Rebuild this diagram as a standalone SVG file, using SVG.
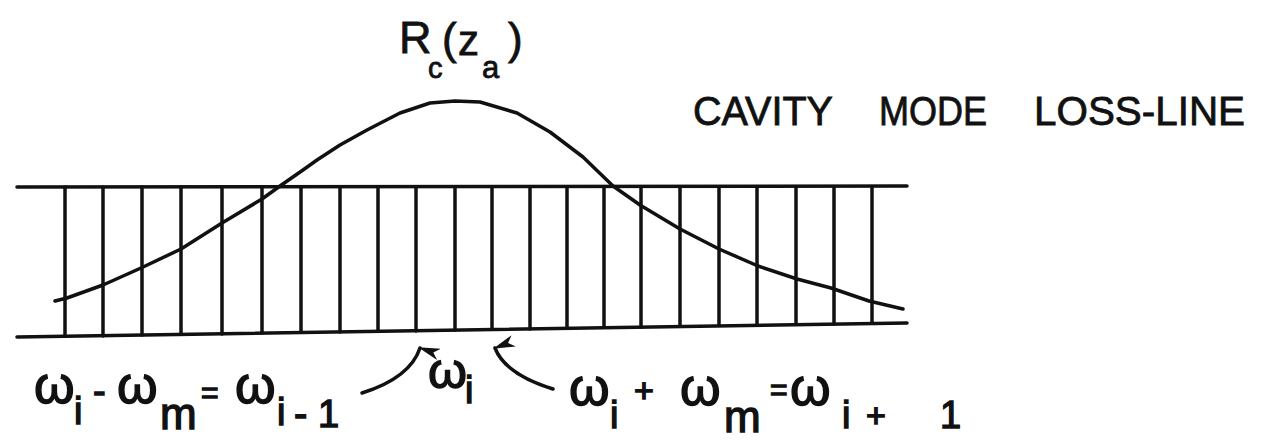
<svg xmlns="http://www.w3.org/2000/svg" width="1262" height="442" viewBox="0 0 1262 442">
<style>
.ln{stroke:#111;stroke-width:3.5;fill:none;stroke-linecap:round;stroke-linejoin:round}
.t{font-family:"Liberation Sans",Arial,sans-serif;fill:#111;stroke:#111;stroke-width:0.8}
.w{font-family:"Liberation Sans",Arial,sans-serif;fill:#111;stroke:#111;stroke-width:1.4}
</style>
<defs>
<marker id="ah" viewBox="0 0 12 22" refX="6" refY="2" markerWidth="12" markerHeight="22" markerUnits="userSpaceOnUse" orient="auto-start-reverse">
<path d="M6,0 L12,22 L6,16 L0,22 Z" fill="#111"/>
</marker>
</defs>
<rect width="1262" height="442" fill="#fff"/>
<g id="frame">
<line class="ln" x1="17" y1="187" x2="907" y2="186"/>
<line class="ln" x1="17" y1="337" x2="907" y2="323"/>
<g class="ln">
<line x1="65" y1="187" x2="65" y2="336"/>
<line x1="103" y1="187" x2="103" y2="336"/>
<line x1="142" y1="187" x2="142" y2="335"/>
<line x1="181" y1="187" x2="181" y2="334"/>
<line x1="222" y1="187" x2="222" y2="334"/>
<line x1="262" y1="187" x2="262" y2="333"/>
<line x1="301" y1="187" x2="301" y2="332"/>
<line x1="340" y1="187" x2="340" y2="332"/>
<line x1="378" y1="187" x2="378" y2="331"/>
<line x1="416" y1="187" x2="416" y2="331"/>
<line x1="455" y1="187" x2="455" y2="330"/>
<line x1="492" y1="187" x2="492" y2="329"/>
<line x1="530" y1="187" x2="530" y2="329"/>
<line x1="567" y1="187" x2="567" y2="328"/>
<line x1="604" y1="187" x2="604" y2="327"/>
<line x1="641" y1="187" x2="641" y2="327"/>
<line x1="680" y1="187" x2="680" y2="326"/>
<line x1="719" y1="187" x2="719" y2="325"/>
<line x1="757" y1="187" x2="757" y2="325"/>
<line x1="796" y1="187" x2="796" y2="324"/>
<line x1="834" y1="187" x2="834" y2="324"/>
<line x1="872" y1="187" x2="872" y2="323"/>
</g>
</g>
<g id="curve">
<polyline class="ln" points="55,301 67,298 103,285 141,268 181,249 222,223 262,199 280,186 303,170 317,160 340,145 367,130 400,113 430,103 455,101 480,102 517,113 550,132 583,157 613,186 640,205 680,229 719,249 758,266 797,279 831,288 869,301 903,309"/>
</g>
<g id="label-rc">
<text class="t" x="399" y="53" font-size="45">R</text>
<text class="t" x="428" y="78" font-size="29">c</text>
<text class="t" x="442" y="54" font-size="44">(</text>
<text class="t" x="458" y="55" font-size="42">z</text>
<text class="t" x="482" y="78" font-size="31">a</text>
<text class="t" x="508" y="54" font-size="44">)</text>
</g>
<g id="label-loss">
<text class="t" x="693" y="125" font-size="40" textLength="140" lengthAdjust="spacingAndGlyphs">CAVITY</text>
<text class="t" x="879" y="125" font-size="40" textLength="108" lengthAdjust="spacingAndGlyphs">MODE</text>
<text class="t" x="1034" y="125" font-size="40" textLength="211" lengthAdjust="spacingAndGlyphs">LOSS-LINE</text>
</g>
<g id="label-left">
<text class="w" x="34" y="403" font-size="52">ω</text>
<text class="w" x="74" y="424" font-size="38">i</text>
<text class="w" x="93" y="404" font-size="38">-</text>
<text class="w" x="117" y="403" font-size="52">ω</text>
<text class="w" x="160" y="429" font-size="44">m</text>
<text class="w" x="201" y="403" font-size="30">=</text>
<text class="w" x="235" y="403" font-size="52">ω</text>
<text class="w" x="277" y="425" font-size="38">i</text>
<text class="w" x="294" y="427" font-size="40">-</text>
<text class="w" x="318" y="427" font-size="38">1</text>
</g>
<g id="label-mid">
<text class="w" x="428" y="388" font-size="50">ω</text>
<text class="w" x="465" y="403" font-size="38">i</text>
</g>
<g id="label-right">
<text class="w" x="569" y="405" font-size="52">ω</text>
<text class="w" x="610" y="428" font-size="38">i</text>
<text class="w" x="634" y="402" font-size="34">+</text>
<text class="w" x="680" y="405" font-size="52">ω</text>
<text class="w" x="724" y="432" font-size="44">m</text>
<text class="w" x="770" y="400" font-size="30">=</text>
<text class="w" x="790" y="405" font-size="52">ω</text>
<text class="w" x="842" y="428" font-size="38">i</text>
<text class="w" x="866" y="427" font-size="34">+</text>
<text class="w" x="940" y="428" font-size="38">1</text>
</g>
<g id="connectors">
<path class="ln" d="M362,393 Q410,378 420,348" marker-end="url(#ah)"/>
<path class="ln" d="M553,389 Q505,374 495,348" marker-end="url(#ah)"/>
</g>
</svg>
